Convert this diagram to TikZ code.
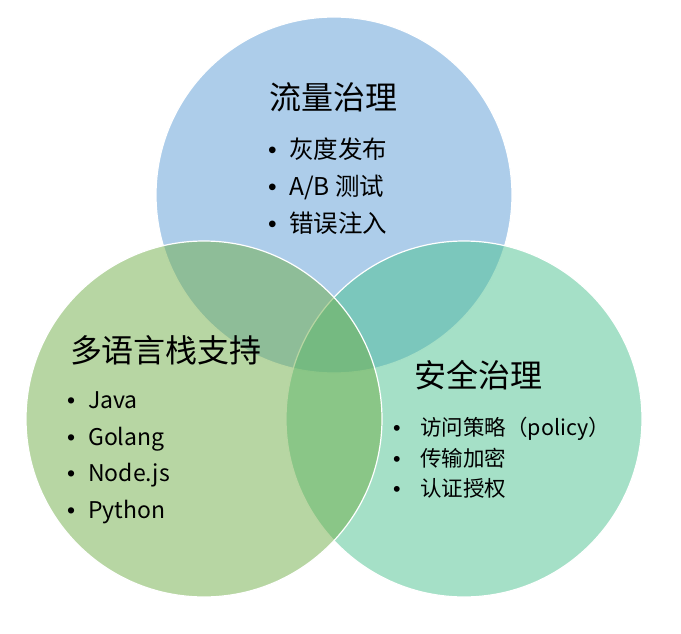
\documentclass[tikz,border=0pt]{standalone}
\usepackage{fontspec}
\usepackage{xcolor}
\usepackage{tikz}
\usetikzlibrary{positioning}
\newfontfamily\cjk{Noto Sans CJK SC}
\newfontfamily\bulfont{Liberation Sans}
\definecolor{trafficblue}{RGB}{91,155,213}
\definecolor{safemint}{RGB}{75,193,143}
\definecolor{langgreen}{RGB}{112,173,71}
\newcommand{\bul}[1]{\makebox[#1][l]{\bulfont\textbullet}}

\begin{document}
\begin{tikzpicture}[x=1pt, y=-1pt,
    venn/.style={circle, minimum size=356pt, inner sep=0pt, draw=white, line width=1.2pt, fill opacity=0.5},
    vtitle/.style={font=\cjk\fontsize{32}{38}\selectfont, inner sep=0pt},
    vlist/.style={anchor=west, align=left, inner sep=0pt}]
        \useasboundingbox (0,0) rectangle (681,634);
        % Circles
        \node[venn, fill=trafficblue] (traffic) at (334,195) {};
        \node[venn, fill=safemint] (security) at (464,419) {};
        \node[venn, fill=langgreen] (lang) at (204,419) {};
        
        % Titles
        \node[vtitle] (traffictitle) at (333,97) {流量治理};
        \node[vtitle] (langtitle) at (166,350) {多语言栈支持};
        \node[vtitle] (securitytitle) at (478,375) {安全治理};
        
        % Bullet lists
        \node[vlist, font=\cjk\fontsize{24.5}{37}\selectfont] (trafficlist) at (268,186) {\bul{21pt}灰度发布\\ \bul{21pt}A/B 测试\\ \bul{21pt}错误注入};
        \node[vlist, font=\cjk\fontsize{23}{36.5}\selectfont] (langlist) at (67,458) {\bul{21pt}Java\\ \bul{21pt}Golang\\ \bul{21pt}Node.js\\ \bul{21pt}Python};
        \node[vlist, font=\cjk\fontsize{21.5}{30.5}\selectfont] (securitylist) at (393,458) {\bul{27pt}访问策略（policy）\\ \bul{27pt}传输加密\\ \bul{27pt}认证授权};
    \end{tikzpicture}
\end{document}
